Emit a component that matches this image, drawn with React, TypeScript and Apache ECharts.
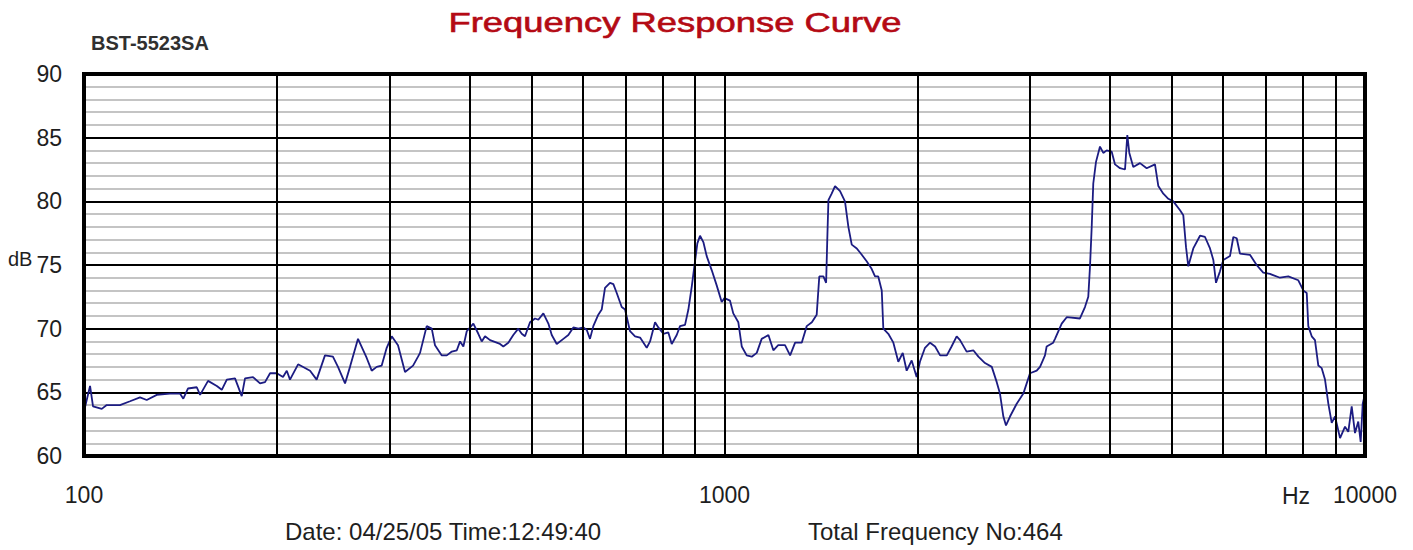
import React, { useEffect, useRef } from "react";
import * as echarts from "echarts";

// Frequency (Hz) of each measured point
const freqs: number[] = [
  100, 102.2, 103.3, 106.6, 108.5, 113.8, 118.0, 122.3, 125.3, 129.9,
  136.2, 141.2, 142.9, 145.3, 150.0, 151.8, 156.2, 161.2, 164.1, 167.1,
  172.1, 176.3, 178.4, 183.6, 188.3, 191.7, 195.2, 200.0, 204.5, 207.3,
  209.7, 215.9, 225.4, 230.8, 237.8, 244.7, 249.2, 255.6, 260.2, 267.8,
  276.3, 281.3, 286.4, 291.6, 296.9, 302.3, 309.2, 317.1, 326.4, 332.3,
  334.7, 342.8, 349.1, 353.2, 361.9, 368.5, 375.2, 382.0, 386.5, 391.1,
  395.9, 405.4, 412.7, 417.8, 422.8, 430.5, 446.2, 451.5, 459.7, 468.0,
  476.5, 482.4, 488.1, 497.0, 506.0, 512.1, 521.4, 530.9, 537.4, 547.1,
  560.3, 570.4, 580.8, 591.4, 602.1, 609.5, 616.6, 624.0, 635.3, 643.1,
  650.8, 662.6, 670.6, 678.8, 691.1, 699.4, 712.0, 725.0, 738.2, 756.1,
  765.2, 779.1, 788.3, 802.6, 817.2, 827.2, 842.2, 852.2, 867.7, 878.2,
  888.9, 899.5, 907.0, 915.8, 926.8, 938.0, 955.0, 972.3, 990.0, 1000,
  1020, 1032, 1051, 1064, 1083, 1103, 1123, 1143, 1171, 1192,
  1213, 1243, 1266, 1289, 1320, 1344, 1369, 1393, 1406, 1427,
  1441, 1447, 1453, 1470, 1488, 1515, 1542, 1561, 1580, 1609,
  1638, 1667, 1697, 1718, 1738, 1760, 1770, 1802, 1835, 1868,
  1898, 1925, 1960, 1995, 2019, 2056, 2094, 2132, 2171, 2224,
  2262, 2304, 2332, 2388, 2446, 2491, 2551, 2614, 2661, 2692,
  2725, 2751, 2791, 2859, 2928, 2999, 3072, 3109, 3165, 3184,
  3260, 3281, 3361, 3422, 3589, 3654, 3698, 3721, 3744, 3765,
  3802, 3857, 3903, 3951, 4023, 4071, 4145, 4220, 4255, 4286,
  4347, 4453, 4562, 4700, 4757, 4843, 4931, 5020, 5143, 5204,
  5255, 5298, 5394, 5526, 5626, 5728, 5797, 5853, 5937, 6009,
  6155, 6229, 6305, 6379, 6613, 6773, 6936, 7106, 7367, 7591,
  7868, 8011, 8110, 8156, 8257, 8354, 8455, 8559, 8661, 8766,
  8872, 8980, 9142, 9307, 9417, 9533, 9647, 9761, 9846, 9918,
  10000,
];

// Sound pressure level (dB) at each frequency
const levels: number[] = [
  63.5, 65.5, 63.9, 63.7, 64.0, 64.0, 64.3, 64.6, 64.4, 64.8,
  64.9, 64.9, 64.5, 65.3, 65.4, 64.8, 65.9, 65.5, 65.2, 66.0,
  66.1, 64.7, 66.1, 66.2, 65.7, 65.8, 66.5, 66.5, 66.2, 66.7,
  66.0, 67.2, 66.7, 66.0, 67.9, 67.8, 67.0, 65.7, 67.0, 69.2,
  67.7, 66.7, 67.0, 67.1, 68.5, 69.4, 68.7, 66.6, 67.1, 67.8,
  68.1, 70.2, 70.0, 68.7, 67.9, 67.9, 68.2, 68.3, 69.0, 68.6,
  69.8, 70.4, 69.6, 69.0, 69.4, 69.1, 68.8, 68.6, 68.9, 69.5,
  70.0, 69.6, 69.4, 70.5, 70.8, 70.7, 71.2, 70.4, 69.5, 68.8,
  69.2, 69.5, 70.1, 70.0, 70.1, 69.9, 69.2, 70.2, 71.1, 71.5,
  73.2, 73.6, 73.5, 72.8, 71.7, 71.5, 69.8, 69.4, 69.3, 68.5,
  69.0, 70.5, 70.1, 69.6, 69.7, 68.8, 69.5, 70.2, 70.3, 71.5,
  73.3, 75.3, 76.7, 77.3, 76.8, 75.7, 74.6, 73.4, 72.1, 72.4,
  72.2, 71.2, 70.5, 68.6, 67.9, 67.8, 68.1, 69.2, 69.5, 68.3,
  68.7, 68.7, 67.9, 68.9, 68.9, 70.2, 70.5, 71.1, 74.1, 74.1,
  73.6, 77.0, 80.1, 80.6, 81.2, 80.8, 80.0, 78.0, 76.6, 76.3,
  75.8, 75.3, 74.7, 74.1, 74.1, 73.0, 70.0, 69.6, 68.9, 67.4,
  68.1, 66.7, 67.5, 66.2, 67.4, 68.5, 68.9, 68.6, 67.9, 67.9,
  68.6, 69.4, 69.1, 68.2, 68.3, 67.8, 67.3, 67.0, 65.8, 64.9,
  63.1, 62.4, 63.1, 64.1, 64.9, 66.5, 66.7, 67.0, 67.9, 68.6,
  68.9, 69.2, 70.4, 70.9, 70.8, 71.7, 72.5, 74.9, 78.0, 81.4,
  83.1, 84.3, 83.8, 84.0, 83.9, 82.9, 82.6, 82.5, 85.2, 83.8,
  82.7, 83.0, 82.6, 82.9, 81.2, 80.6, 80.2, 80.0, 79.3, 78.9,
  76.4, 74.9, 76.3, 77.3, 77.2, 76.3, 75.4, 73.6, 74.5, 75.4,
  75.7, 77.2, 77.1, 75.9, 75.8, 75.0, 74.4, 74.3, 74.0, 74.1,
  73.8, 73.0, 72.8, 70.2, 69.4, 69.1, 67.1, 66.9, 66.0, 64.1,
  62.6, 63.1, 61.4, 62.3, 61.9, 63.9, 61.8, 62.7, 61.1, 64.1,
  64.9,
];

// Vertical grid lines of the log frequency axis
const freqGridLines: number[] = [
  200, 300, 400, 500, 600, 700, 800, 900, 1000,
  2000, 3000, 4000, 5000, 6000, 7000, 8000, 9000,
];

const X_MIN = 100;
const X_MAX = 10000;
const Y_MIN = 60;
const Y_MAX = 90;
const Y_MAJOR = 5;
const Y_MINOR_SPLITS = 5;

const titleText = "Frequency Response Curve";
const modelText = "BST-5523SA";
const yUnit = "dB";
const xUnit = "Hz";
const dateText = "Date: 04/25/05 Time:12:49:40";
const totalText = "Total Frequency No:464";

const W = 1413;
const H = 550;
const GRID = { left: 84, top: 74, width: 1281, height: 382 };
const FONT = "'Liberation Sans', Arial, sans-serif";
const TEXT_COLOR = "#1e1e1e";

export default function App() {
  const ref = useRef<HTMLDivElement>(null);

  useEffect(() => {
    document.body.style.margin = "0";
    if (!ref.current) return;
    const chart = echarts.init(ref.current, null, { renderer: "svg" });
    const data = freqs.map((f, i) => [f, levels[i]]);

    chart.setOption({
      animation: false,
      backgroundColor: "#ffffff",
      grid: { ...GRID, containLabel: false },
      xAxis: {
        type: "log",
        logBase: 10,
        min: X_MIN,
        max: X_MAX,
        axisLine: { show: false },
        axisTick: { show: false },
        splitLine: { show: false },
        axisLabel: {
          fontSize: 23,
          fontFamily: FONT,
          color: TEXT_COLOR,
          margin: 27,
          formatter: (v: number) => String(Math.round(v)),
        },
      },
      yAxis: {
        type: "value",
        min: Y_MIN,
        max: Y_MAX,
        interval: Y_MAJOR,
        axisLine: { show: false },
        axisTick: { show: false },
        axisLabel: {
          fontSize: 23,
          fontFamily: FONT,
          color: TEXT_COLOR,
          margin: 22,
        },
        splitLine: { show: true, lineStyle: { color: "#000000", width: 2 } },
        minorTick: { show: false, splitNumber: Y_MINOR_SPLITS },
        minorSplitLine: { show: true, lineStyle: { color: "#c4c4c4", width: 2 } },
      },
      series: [
        {
          type: "line",
          data: [],
          silent: true,
          z: 1,
          markLine: {
            silent: true,
            symbol: ["none", "none"],
            label: { show: false },
            lineStyle: { color: "#000000", width: 2, type: "solid" },
            emphasis: { disabled: true },
            data: freqGridLines.map((v) => ({ xAxis: v })),
          },
        },
        {
          type: "line",
          data,
          z: 3,
          symbol: "none",
          showSymbol: false,
          silent: true,
          lineStyle: { color: "#1c1c82", width: 1.8 },
        },
      ],
      graphic: [
        {
          type: "rect",
          z: 100,
          silent: true,
          shape: { x: GRID.left, y: GRID.top, width: GRID.width, height: GRID.height },
          style: { fill: "none", stroke: "#000000", lineWidth: 4 },
        },
        {
          type: "text",
          x: 675,
          y: 23,
          scaleX: 1.3,
          style: {
            text: titleText,
            fontSize: 28,
            fontFamily: FONT,
            fill: "#b40a14",
            stroke: "#b40a14",
            lineWidth: 0.6,
            align: "center",
            verticalAlign: "middle",
          },
        },
        {
          type: "text",
          x: 91,
          y: 43,
          style: {
            text: modelText,
            fontSize: 20,
            fontWeight: "bold",
            fontFamily: FONT,
            fill: "#303030",
            align: "left",
            verticalAlign: "middle",
          },
        },
        {
          type: "text",
          x: 8,
          y: 259,
          style: {
            text: yUnit,
            fontSize: 20,
            fontFamily: FONT,
            fill: TEXT_COLOR,
            align: "left",
            verticalAlign: "middle",
          },
        },
        {
          type: "text",
          x: 1296,
          y: 496,
          style: {
            text: xUnit,
            fontSize: 23,
            fontFamily: FONT,
            fill: TEXT_COLOR,
            align: "center",
            verticalAlign: "middle",
          },
        },
        {
          type: "text",
          x: 285,
          y: 531,
          style: {
            text: dateText,
            fontSize: 24,
            fontFamily: FONT,
            fill: TEXT_COLOR,
            align: "left",
            verticalAlign: "middle",
          },
        },
        {
          type: "text",
          x: 808,
          y: 531,
          style: {
            text: totalText,
            fontSize: 24,
            fontFamily: FONT,
            fill: TEXT_COLOR,
            align: "left",
            verticalAlign: "middle",
          },
        },
      ],
    });

    return () => {
      chart.dispose();
    };
  }, []);

  return <div ref={ref} style={{ width: W, height: H }} />;
}
